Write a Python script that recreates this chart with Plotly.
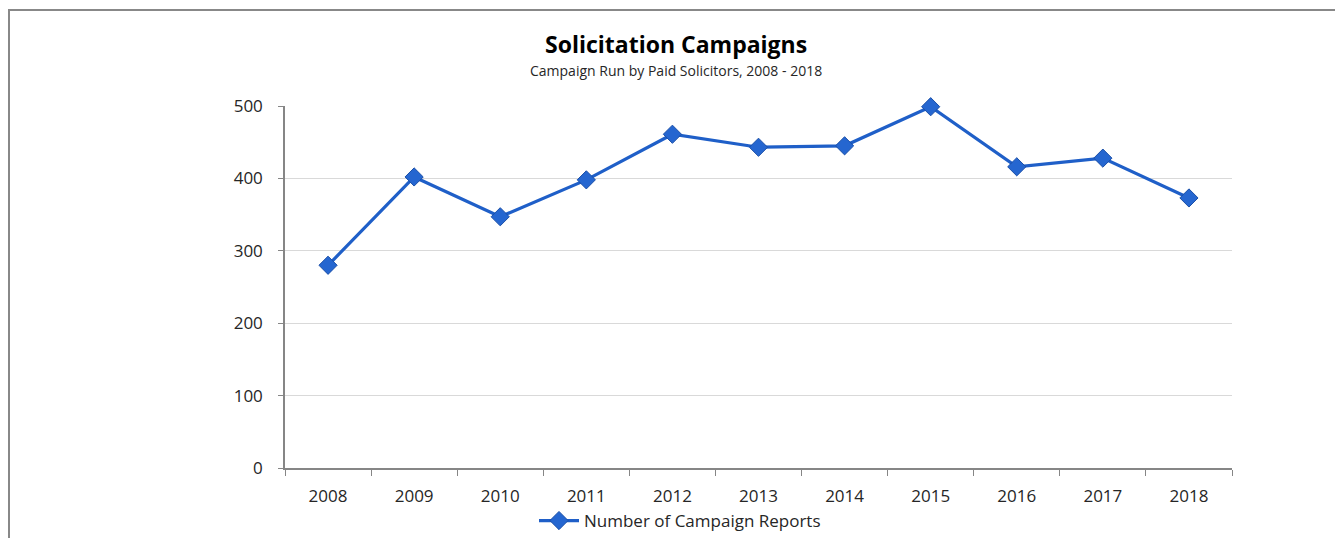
import plotly.graph_objects as go

years = ["2008", "2009", "2010", "2011", "2012", "2013", "2014", "2015", "2016", "2017", "2018"]
reports = [280, 402, 347, 398, 461, 443, 445, 499, 416, 428, 373]
y_ticks = [0, 100, 200, 300, 400, 500]

FONT = "Open Sans"
OFF = 8  # page body margin
W, H = 1343 - 2 * OFF, 546 - 2 * OFF
L, R, T, B = 285, 1232, 106, 468  # target page pixels
pw, ph = R - L, B - T

def px(x):
    return (x - L) / pw

def py(y):
    return (B - y) / ph

fig = go.Figure()
fig.add_trace(go.Scatter(
    x=years, y=reports, mode="lines+markers",
    name="Number of Campaign Reports",
    line=dict(color="#1F5FC8", width=3.2),
    marker=dict(symbol="diamond", size=14, color="#2566D0",
                line=dict(color="#1A4FA8", width=1)),
    cliponaxis=False,
))

fig.update_layout(
    width=W, height=H,
    margin=dict(l=L - OFF, r=W - (R - OFF), t=T - OFF, b=H - (B - OFF), pad=0, autoexpand=False),
    paper_bgcolor="white", plot_bgcolor="white",
    font=dict(family=FONT, color="#262626", size=15),
    showlegend=True,
    legend=dict(orientation="h", x=(680 - OFF) / W, xref="container", xanchor="center",
                y=1 - (521 - OFF) / H, yref="container", yanchor="middle",
                font=dict(size=17, color="#262626"), itemwidth=40, bgcolor="rgba(0,0,0,0)"),
    xaxis=dict(type="category", range=[-0.5, 10.5], tickson="boundaries",
               ticks="outside", ticklen=6, tickcolor="#868686",
               showline=True, linecolor="#868686", linewidth=1.5,
               showgrid=False, tickfont=dict(size=17, color="#262626"),
               ticklabelstandoff=12),
    yaxis=dict(range=[0, 500], tickvals=y_ticks, ticks="outside", ticklen=5,
               tickcolor="#868686", showline=True, linecolor="#868686", linewidth=1.5,
               gridcolor="#D9D9D9", gridwidth=1.2, zeroline=False,
               tickfont=dict(size=17, color="#262626"), ticklabelstandoff=12),
    annotations=[
        dict(text="<b>Solicitation Campaigns</b>", xref="paper", yref="paper",
             x=px(676), y=py(44), xanchor="center", yanchor="middle", showarrow=False,
             font=dict(size=23, color="#000000", family=FONT)),
        dict(text="Campaign Run by Paid Solicitors, 2008 - 2018", xref="paper", yref="paper",
             x=px(676), y=py(71), xanchor="center", yanchor="middle", showarrow=False,
             font=dict(size=14, color="#262626", family=FONT)),
    ],
    shapes=[
        dict(type="line", xref="paper", yref="paper",
             x0=px(9), x1=px(9), y0=py(10), y1=py(560),
             line=dict(color="#888888", width=2), layer="below"),
        dict(type="line", xref="paper", yref="paper",
             x0=px(8), x1=px(1343), y0=py(10), y1=py(10),
             line=dict(color="#888888", width=2), layer="below"),
    ],
)

fig.write_html("out.html")
